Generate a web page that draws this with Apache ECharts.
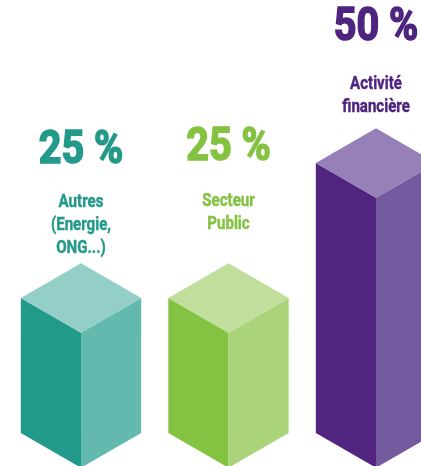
<!DOCTYPE html>
<html>
<head>
<meta charset="utf-8">
<script src="https://cdn.jsdelivr.net/npm/echarts@6/dist/echarts.min.js"></script>
<style>
  html, body { margin: 0; padding: 0; background: #fff; }
  #chart { width: 421px; height: 466px; }
</style>
</head>
<body>
<div id="chart"></div>
<script>
// data
var categories = ['Autres', 'Secteur Public', 'Activité financière']
var nameLines = ['Autres\n(Energie,\nONG...)', 'Secteur\nPublic', 'Activité\nfinancière']
var values = [25, 25, 50]
var percentLabels = ['25 %', '25 %', '50 %']

// colours: [left face, right face, top face, text]
var palette = [
	['#219a8a', '#64b9ae', '#93cfc7', '#23998a'],
	['#84c242', '#abd47a', '#c0df9c', '#84c242'],
	['#512480', '#745a9f', '#9580b8', '#4f2480']
]
// label placement above the top of each cube (px)
var pctLift = [96, 99, 84]
var nameGap = [41, 43, 46]

var FONT = 'Roboto, "Liberation Sans", sans-serif'
var SQUEEZE = 0.86

function renderItem(params, api) {
	var i = params.dataIndex
	var top = api.coord([api.value(0), api.value(1)])
	var base = api.coord([api.value(0), 0])
	var band = api.size([1, 0])[0]
	var hw = band * 0.408
	var dy = hw * 0.577
	var cx = top[0]
	var c = palette[i]

	var left = [[cx - hw, top[1]], [cx, top[1] + dy], [cx, base[1] + dy], [cx - hw, base[1]]]
	var right = [[cx, top[1] + dy], [cx + hw, top[1]], [cx + hw, base[1]], [cx, base[1] + dy]]
	var lid = [[cx - hw, top[1]], [cx, top[1] - dy], [cx + hw, top[1]], [cx, top[1] + dy]]

	var apex = top[1] - dy
	var pctBase = apex - pctLift[i]
	var nameBase = pctBase + nameGap[i]

	return {
		type: 'group',
		children: [
			{ type: 'polygon', shape: { points: left }, style: { fill: c[0] } },
			{ type: 'polygon', shape: { points: right }, style: { fill: c[1] } },
			{ type: 'polygon', shape: { points: lid }, style: { fill: c[2] } },
			{
				type: 'text',
				x: cx, y: pctBase + 7, scaleX: SQUEEZE,
				style: {
					text: percentLabels[i], x: 0, y: 0,
					align: 'center', verticalAlign: 'bottom',
					fill: c[3], stroke: c[3], lineWidth: 1.6,
					fontFamily: FONT, fontWeight: 'bold', fontSize: 46, lineHeight: 46
				}
			},
			{
				type: 'text',
				x: cx, y: nameBase - 17, scaleX: SQUEEZE,
				style: {
					text: nameLines[i], x: 0, y: 0,
					align: 'center', verticalAlign: 'top',
					fill: c[3], stroke: c[3], lineWidth: 0.4,
					fontFamily: FONT, fontWeight: 'bold', fontSize: 17.5, lineHeight: 23
				}
			}
		]
	}
}

var myChart = echarts.init(document.getElementById('chart'))
var option = {
	backgroundColor: '#ffffff',
	animation: false,
	grid: { left: 0, right: 0, top: 109, bottom: 33 },
	xAxis: { type: 'value', min: -0.549, max: 2.305, show: false },
	yAxis: { type: 'value', min: 0, max: 60, show: false },
	series: [{
		type: 'custom',
		clip: false,
		renderItem: renderItem,
		data: values.map(function (v, i) { return [i, v, categories[i]] })
	}]
}
myChart.setOption(option)
</script>
</body>
</html>
